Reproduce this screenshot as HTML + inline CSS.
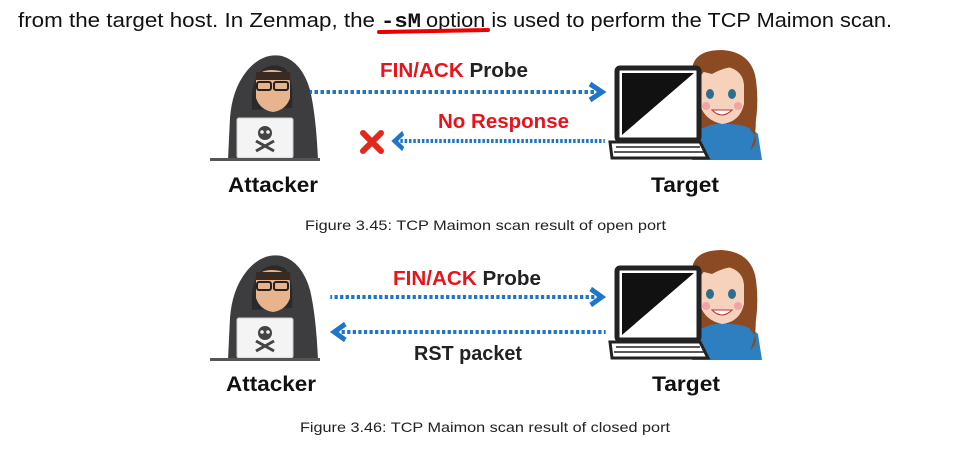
<!DOCTYPE html>
<html><head><meta charset="utf-8"><style>
html,body{margin:0;padding:0;background:#fff;}
svg{display:block;}
text{font-family:"Liberation Sans",sans-serif;}
</style></head><body>
<svg width="961" height="463" viewBox="0 0 961 463" xmlns="http://www.w3.org/2000/svg">
<defs>
<g id="att">
  <path d="M228,160 L230,118 Q232,90 246,72 Q262,52 282,56 Q302,62 310,90 Q316,115 318,160 Z" fill="#3d3d3f"/>
  <path d="M252,110 Q250,80 262,70 Q272,62 284,68 Q294,76 292,108 Z" fill="#2a2a2a"/>
  <path d="M256,80 Q258,70 272,70 Q288,70 290,82 L290,98 Q286,110 273,112 Q260,110 256,98 Z" fill="#e8b48e"/>
  <rect x="256" y="72" width="34" height="8" fill="#3a2a1f"/>
  <rect x="257" y="82" width="14" height="8" rx="2" fill="none" stroke="#222" stroke-width="2"/>
  <rect x="274" y="82" width="14" height="8" rx="2" fill="none" stroke="#222" stroke-width="2"/>
  <rect x="237" y="118" width="56" height="40" rx="2" fill="#f4f4f4" stroke="#ccc"/>
  <circle cx="265" cy="133" r="7" fill="#444"/>
  <circle cx="262" cy="132" r="1.8" fill="#f4f4f4"/><circle cx="268" cy="132" r="1.8" fill="#f4f4f4"/>
  <path d="M256,141 L274,151 M274,141 L256,151" stroke="#444" stroke-width="3"/>
  <rect x="210" y="158" width="110" height="3" fill="#555"/>
</g>
<g id="tgt">
  <path d="M692,75 Q690,50 722,50 Q752,52 756,80 Q760,110 752,140 L700,140 Z" fill="#8b4a22"/>
  <path d="M692,160 L696,132 Q710,122 728,124 Q748,124 758,134 L762,160 Z" fill="#2e7fbf"/>
  <path d="M700,80 Q702,66 722,66 Q742,68 744,84 L744,104 Q740,122 722,124 Q704,120 700,104 Z" fill="#f6d2bc"/>
  <path d="M696,70 Q710,56 744,68 Q730,64 712,74 Z" fill="#8b4a22"/>
  <path d="M742,70 Q760,90 750,130 Q762,140 750,150 Q764,120 744,84 Z" fill="#8b4a22"/>
  <ellipse cx="710" cy="94" rx="4" ry="5" fill="#2d6e8a"/>
  <ellipse cx="732" cy="94" rx="4" ry="5" fill="#2d6e8a"/>
  <circle cx="706" cy="106" r="4" fill="#f2a3a3"/><circle cx="738" cy="106" r="4" fill="#f2a3a3"/>
  <path d="M712,110 Q722,120 732,110 Z" fill="#fff" stroke="#b33" stroke-width="1"/>
  <rect x="617" y="68" width="82" height="72" rx="3" fill="#fff" stroke="#222" stroke-width="5"/>
  <path d="M622,73 L694,73 L622,135 Z" fill="#111"/>
  <path d="M610,142 L700,142 L708,158 L612,158 Z" fill="#fff" stroke="#222" stroke-width="3"/>
  <path d="M616,147 L700,147 M614,152 L704,152" stroke="#222" stroke-width="1.5"/>
</g>
<g id="arrR">
  <line x1="0" y1="0" x2="-290" y2="0" stroke="#1f76c8" stroke-width="4" stroke-dasharray="3.5 2.5"/>
  <path d="M-10,-8 L2,0 L-10,8" fill="none" stroke="#1f76c8" stroke-width="5"/>
</g>
</defs>

<text x="18" y="27" font-size="20" fill="#111" textLength="357" lengthAdjust="spacingAndGlyphs">from the target host. In Zenmap, the</text>
<text x="381" y="27" font-size="20" style="font-family:'Liberation Mono',monospace" font-weight="bold" fill="#111" textLength="40" lengthAdjust="spacingAndGlyphs">-sM</text>
<text x="426" y="27" font-size="20" fill="#111" textLength="466" lengthAdjust="spacingAndGlyphs">option is used to perform the TCP Maimon scan.</text>
<path d="M379,32 L488,30" stroke="#e00" stroke-width="4" stroke-linecap="round"/>

<use href="#att"/>
<use href="#tgt"/>
<use href="#arrR" transform="translate(600,92)"/>
<use href="#arrR" transform="translate(396,141) scale(-0.72,1)"/>
<path d="M363,133 L381,151 M381,133 L363,151" stroke="#e0281c" stroke-width="6" stroke-linecap="round"/>
<text x="380" y="77" font-size="20" font-weight="bold" textLength="148" lengthAdjust="spacingAndGlyphs"><tspan fill="#e8141c">FIN/ACK</tspan><tspan fill="#222"> Probe</tspan></text>
<text x="438" y="128" font-size="20" font-weight="bold" fill="#e8141c" textLength="131" lengthAdjust="spacingAndGlyphs">No Response</text>
<text x="228" y="192" font-size="21" font-weight="bold" fill="#111" textLength="90" lengthAdjust="spacingAndGlyphs">Attacker</text>
<text x="651" y="192" font-size="21" font-weight="bold" fill="#111" textLength="68" lengthAdjust="spacingAndGlyphs">Target</text>
<text x="305" y="230" font-size="14" fill="#222" textLength="361" lengthAdjust="spacingAndGlyphs">Figure 3.45: TCP Maimon scan result of open port</text>

<use href="#att" transform="translate(0,200)"/>
<use href="#tgt" transform="translate(0,200)"/>
<use href="#arrR" transform="translate(600,297) scale(0.93,1)"/>
<use href="#arrR" transform="translate(336,332) scale(-0.93,1)"/>
<text x="393" y="285" font-size="20" font-weight="bold" textLength="148" lengthAdjust="spacingAndGlyphs"><tspan fill="#e8141c">FIN/ACK</tspan><tspan fill="#222"> Probe</tspan></text>
<text x="414" y="360" font-size="20" font-weight="bold" fill="#222" textLength="108" lengthAdjust="spacingAndGlyphs">RST packet</text>
<text x="226" y="391" font-size="21" font-weight="bold" fill="#111" textLength="90" lengthAdjust="spacingAndGlyphs">Attacker</text>
<text x="652" y="391" font-size="21" font-weight="bold" fill="#111" textLength="68" lengthAdjust="spacingAndGlyphs">Target</text>
<text x="300" y="432" font-size="14" fill="#222" textLength="370" lengthAdjust="spacingAndGlyphs">Figure 3.46: TCP Maimon scan result of closed port</text>
</svg>
</body></html>
